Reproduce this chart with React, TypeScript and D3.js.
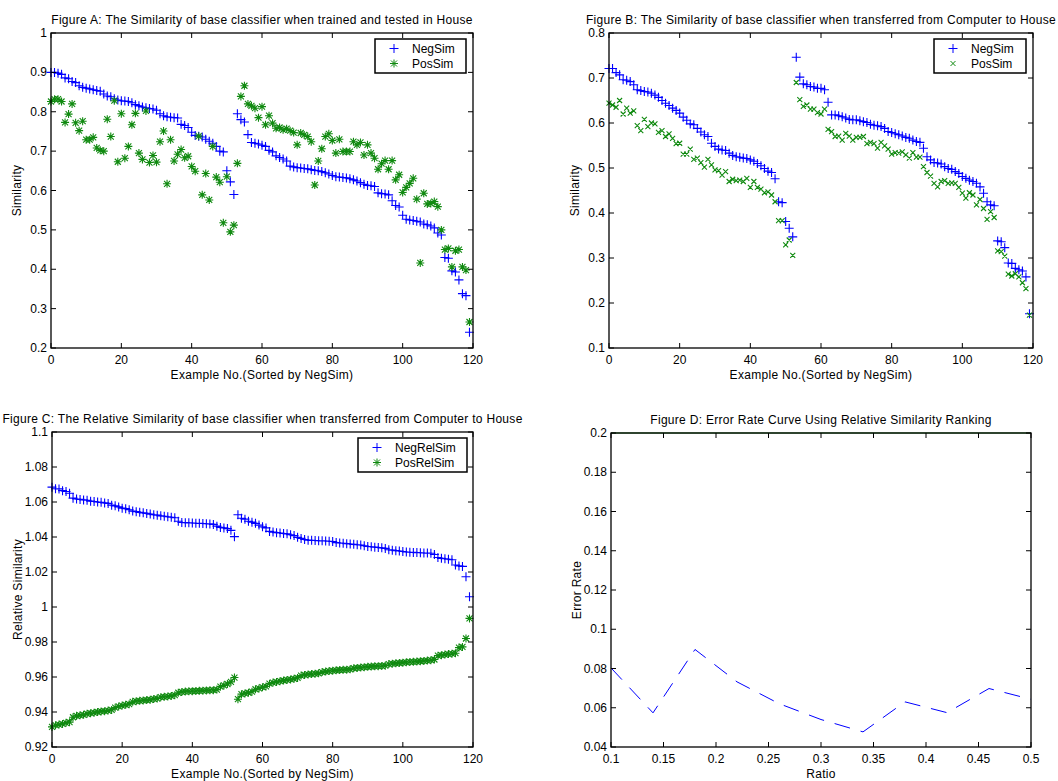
import React from "react";
import * as d3 from "d3";

// example index (sorted by NegSim)
const exampleNo = d3.range(120);

// Figure A: trained and tested in House
const negSimA = [
  0.900, 0.900, 0.898, 0.895, 0.886, 0.884, 0.877, 0.874, 0.866, 0.862,
  0.860, 0.858, 0.856, 0.854, 0.852, 0.845, 0.840, 0.838, 0.833, 0.830,
  0.828, 0.827, 0.826, 0.823, 0.818, 0.815, 0.812, 0.810, 0.808, 0.807,
  0.804, 0.795, 0.790, 0.787, 0.786, 0.785, 0.784, 0.768, 0.765, 0.760,
  0.748, 0.740, 0.738, 0.736, 0.730, 0.725, 0.720, 0.712, 0.700, 0.698,
  0.650, 0.622, 0.590, 0.795, 0.780, 0.774, 0.742, 0.722, 0.720, 0.718,
  0.715, 0.712, 0.702, 0.698, 0.688, 0.684, 0.680, 0.675, 0.662, 0.660,
  0.658, 0.657, 0.656, 0.655, 0.653, 0.651, 0.650, 0.648, 0.645, 0.642,
  0.638, 0.635, 0.634, 0.633, 0.632, 0.630, 0.627, 0.624, 0.620, 0.616,
  0.613, 0.612, 0.610, 0.594, 0.592, 0.591, 0.589, 0.574, 0.562, 0.558,
  0.537, 0.527, 0.525, 0.524, 0.522, 0.520, 0.515, 0.513, 0.510, 0.505,
  0.492, 0.487, 0.430, 0.428, 0.396, 0.393, 0.373, 0.338, 0.333, 0.240,
];
const posSimA = [
  0.826, 0.832, 0.832, 0.826, 0.773, 0.794, 0.820, 0.772, 0.752, 0.776,
  0.729, 0.729, 0.735, 0.708, 0.702, 0.700, 0.781, 0.737, 0.828, 0.673,
  0.795, 0.682, 0.712, 0.767, 0.796, 0.695, 0.679, 0.802, 0.671, 0.689,
  0.672, 0.724, 0.751, 0.617, 0.729, 0.675, 0.692, 0.704, 0.683, 0.687,
  0.661, 0.649, 0.738, 0.589, 0.643, 0.576, 0.712, 0.634, 0.621, 0.518,
  0.635, 0.495, 0.512, 0.669, 0.839, 0.866, 0.820, 0.815, 0.809, 0.785,
  0.813, 0.767, 0.790, 0.771, 0.758, 0.760, 0.754, 0.757, 0.752, 0.747,
  0.716, 0.746, 0.741, 0.737, 0.724, 0.614, 0.675, 0.706, 0.737, 0.744,
  0.727, 0.695, 0.730, 0.699, 0.699, 0.699, 0.724, 0.716, 0.722, 0.690,
  0.716, 0.695, 0.682, 0.654, 0.668, 0.676, 0.654, 0.676, 0.627, 0.640,
  0.595, 0.608, 0.618, 0.631, 0.578, 0.416, 0.593, 0.566, 0.567, 0.572,
  0.559, 0.500, 0.450, 0.453, 0.406, 0.447, 0.450, 0.406, 0.398, 0.266,
];

// Figure B: transferred from Computer to House
const negSimB = [
  0.721, 0.721, 0.712, 0.707, 0.696, 0.695, 0.692, 0.685, 0.674, 0.672,
  0.670, 0.669, 0.666, 0.662, 0.657, 0.650, 0.644, 0.639, 0.633, 0.628,
  0.622, 0.613, 0.606, 0.598, 0.596, 0.588, 0.580, 0.574, 0.570, 0.555,
  0.548, 0.542, 0.540, 0.539, 0.533, 0.528, 0.525, 0.524, 0.522, 0.521,
  0.518, 0.515, 0.510, 0.505, 0.499, 0.493, 0.490, 0.476, 0.425, 0.423,
  0.381, 0.366, 0.347, 0.746, 0.702, 0.687, 0.685, 0.681, 0.680, 0.677,
  0.677, 0.674, 0.646, 0.618, 0.618, 0.616, 0.614, 0.611, 0.608, 0.607,
  0.607, 0.605, 0.603, 0.601, 0.597, 0.595, 0.594, 0.592, 0.588, 0.581,
  0.579, 0.576, 0.574, 0.571, 0.568, 0.566, 0.562, 0.559, 0.557, 0.544,
  0.525, 0.518, 0.512, 0.511, 0.509, 0.503, 0.499, 0.497, 0.492, 0.488,
  0.481, 0.477, 0.473, 0.470, 0.466, 0.458, 0.444, 0.425, 0.418, 0.416,
  0.338, 0.336, 0.323, 0.289, 0.288, 0.277, 0.274, 0.271, 0.258, 0.176,
];
const posSimB = [
  0.644, 0.640, 0.635, 0.650, 0.620, 0.633, 0.622, 0.627, 0.594, 0.583,
  0.608, 0.592, 0.600, 0.598, 0.579, 0.583, 0.570, 0.576, 0.566, 0.554,
  0.555, 0.531, 0.531, 0.542, 0.519, 0.522, 0.512, 0.502, 0.519, 0.507,
  0.496, 0.494, 0.484, 0.492, 0.470, 0.475, 0.472, 0.473, 0.470, 0.477,
  0.457, 0.470, 0.457, 0.453, 0.445, 0.447, 0.440, 0.425, 0.383, 0.383,
  0.329, 0.340, 0.306, 0.690, 0.652, 0.637, 0.640, 0.631, 0.631, 0.623,
  0.620, 0.631, 0.586, 0.581, 0.570, 0.571, 0.562, 0.577, 0.571, 0.562,
  0.568, 0.568, 0.570, 0.554, 0.557, 0.554, 0.544, 0.557, 0.549, 0.542,
  0.531, 0.534, 0.533, 0.536, 0.529, 0.522, 0.534, 0.524, 0.524, 0.503,
  0.490, 0.482, 0.466, 0.458, 0.470, 0.472, 0.466, 0.467, 0.466, 0.457,
  0.444, 0.433, 0.445, 0.440, 0.418, 0.430, 0.410, 0.386, 0.403, 0.390,
  0.316, 0.314, 0.304, 0.264, 0.260, 0.265, 0.258, 0.245, 0.232, 0.173,
];

// Figure C: relative similarity
const negRelSim = [
  1.0685, 1.0676, 1.0675, 1.0665, 1.0660, 1.0650, 1.0622, 1.0617, 1.0615, 1.0612,
  1.0610, 1.0605, 1.0603, 1.0600, 1.0598, 1.0595, 1.0592, 1.0582, 1.0578, 1.0572,
  1.0565, 1.0562, 1.0556, 1.0548, 1.0545, 1.0541, 1.0538, 1.0535, 1.0531, 1.0527,
  1.0525, 1.0521, 1.0519, 1.0516, 1.0513, 1.0510, 1.0490, 1.0483, 1.0482, 1.0481,
  1.0480, 1.0479, 1.0478, 1.0477, 1.0476, 1.0475, 1.0472, 1.0462, 1.0455, 1.0452,
  1.0448, 1.0438, 1.0402, 1.0527, 1.0507, 1.0502, 1.0490, 1.0485, 1.0478, 1.0468,
  1.0458, 1.0452, 1.0432, 1.0428, 1.0425, 1.0423, 1.0420, 1.0418, 1.0413, 1.0408,
  1.0398, 1.0392, 1.0386, 1.0382, 1.0381, 1.0380, 1.0379, 1.0378, 1.0377, 1.0376,
  1.0374, 1.0368, 1.0366, 1.0364, 1.0362, 1.0360, 1.0358, 1.0356, 1.0354, 1.0350,
  1.0346, 1.0344, 1.0342, 1.0340, 1.0338, 1.0335, 1.0327, 1.0325, 1.0322, 1.0320,
  1.0317, 1.0314, 1.0313, 1.0312, 1.0311, 1.0310, 1.0309, 1.0308, 1.0307, 1.0300,
  1.0283, 1.0278, 1.0276, 1.0273, 1.0270, 1.0240, 1.0235, 1.0232, 1.0173, 1.0059,
];
const posRelSim = [
  0.9315, 0.9325, 0.9328, 0.9332, 0.9338, 0.9342, 0.9370, 0.9378, 0.9381, 0.9384,
  0.9390, 0.9393, 0.9396, 0.9400, 0.9403, 0.9405, 0.9408, 0.9412, 0.9425, 0.9432,
  0.9437, 0.9441, 0.9445, 0.9458, 0.9462, 0.9464, 0.9466, 0.9468, 0.9470, 0.9475,
  0.9477, 0.9485, 0.9487, 0.9489, 0.9492, 0.9496, 0.9510, 0.9515, 0.9517, 0.9518,
  0.9519, 0.9520, 0.9521, 0.9522, 0.9523, 0.9524, 0.9525, 0.9528, 0.9545, 0.9552,
  0.9560, 0.9572, 0.9597, 0.9473, 0.9502, 0.9506, 0.9510, 0.9516, 0.9530, 0.9535,
  0.9542, 0.9546, 0.9562, 0.9568, 0.9572, 0.9576, 0.9580, 0.9583, 0.9586, 0.9590,
  0.9595, 0.9608, 0.9612, 0.9615, 0.9617, 0.9619, 0.9621, 0.9628, 0.9631, 0.9634,
  0.9636, 0.9638, 0.9640, 0.9641, 0.9642, 0.9644, 0.9650, 0.9652, 0.9654, 0.9656,
  0.9658, 0.9660, 0.9661, 0.9662, 0.9663, 0.9665, 0.9674, 0.9676, 0.9678, 0.9680,
  0.9682, 0.9684, 0.9686, 0.9687, 0.9688, 0.9690, 0.9692, 0.9694, 0.9696, 0.9700,
  0.9722, 0.9725, 0.9728, 0.9731, 0.9733, 0.9736, 0.9768, 0.9772, 0.9820, 0.9935,
];

// Figure D: error rate curve
const ratio = [0.1, 0.14, 0.18, 0.22, 0.26, 0.3, 0.34, 0.38, 0.42, 0.46, 0.5];
const errorRate = [0.0803, 0.0574, 0.0897, 0.0732, 0.0621, 0.054, 0.0477, 0.063, 0.0575, 0.0698, 0.0643];
const baselineRate = [0.2, 0.2, 0.2, 0.2, 0.2, 0.2, 0.2, 0.2, 0.2, 0.2, 0.2];

const indexTicks = [0, 20, 40, 60, 80, 100, 120];
const simTicksA = [0.2, 0.3, 0.4, 0.5, 0.6, 0.7, 0.8, 0.9, 1];
const simTicksB = [0.1, 0.2, 0.3, 0.4, 0.5, 0.6, 0.7, 0.8];
const relTicks = [0.92, 0.94, 0.96, 0.98, 1, 1.02, 1.04, 1.06, 1.08, 1.1];
const errTicks = [0.04, 0.06, 0.08, 0.1, 0.12, 0.14, 0.16, 0.18, 0.2];
const ratioTicks = [0.1, 0.15, 0.2, 0.25, 0.3, 0.35, 0.4, 0.45, 0.5];

const BLUE = "#0000ff";
const GREEN = "#108a10";
const FONT = "'Liberation Sans', Arial, Helvetica, sans-serif";

const fmt = (d: number) => String(+d.toFixed(4));

const plusPath = (x: number, y: number) => `M${x - 4.5},${y}h9M${x},${y - 4.5}v9`;
const starPath = (x: number, y: number) =>
  `M${x - 4},${y}h8M${x},${y - 4}v8M${x - 3},${y - 3}l6,6M${x - 3},${y + 3}l6,-6`;
const crossPath = (x: number, y: number) => `M${x - 2.5},${y - 2.5}l5,5M${x - 2.5},${y + 2.5}l5,-5`;

const markerFns: Record<string, (x: number, y: number) => string> = {
  plus: plusPath,
  star: starPath,
  cross: crossPath,
};

type Series = { name: string; xs: number[]; ys: number[]; color: string; marker?: string; line?: string };

type PanelProps = {
  left: number;
  top: number;
  width: number;
  height: number;
  xDomain: [number, number];
  yDomain: [number, number];
  xTicks: number[];
  yTicks: number[];
  title: string;
  xLabel: string;
  yLabel: string;
  series: Series[];
  legend?: { x: number; y: number; w: number };
};

function Panel(p: PanelProps) {
  const x = d3.scaleLinear().domain(p.xDomain).range([p.left, p.left + p.width]);
  const y = d3.scaleLinear().domain(p.yDomain).range([p.top + p.height, p.top]);
  const tl = 5;
  const right = p.left + p.width;
  const bottom = p.top + p.height;
  const cx = p.left + p.width / 2;
  const line = d3
    .line<[number, number]>()
    .x((d) => x(d[0]))
    .y((d) => y(d[1]));

  return (
    <g>
      <text x={cx} y={p.top - 9} textAnchor="middle" fontSize={12} letterSpacing={0.3}>
        {p.title}
      </text>

      {/* data */}
      {p.series.map((s) =>
        s.line ? (
          <path
            key={s.name}
            d={line(s.xs.map((v, i) => [v, s.ys[i]] as [number, number])) || ""}
            fill="none"
            stroke={s.color}
            strokeWidth={1}
            strokeDasharray={s.line === "dash" ? "16,11" : undefined}
          />
        ) : (
          <path
            key={s.name}
            d={s.xs.map((v, i) => markerFns[s.marker!](x(v), y(s.ys[i]))).join("")}
            fill="none"
            stroke={s.color}
            strokeWidth={1.1}
          />
        )
      )}

      {/* frame and ticks */}
      <rect x={p.left} y={p.top} width={p.width} height={p.height} fill="none" stroke="#000" strokeWidth={1.3} />
      {p.xTicks.map((t) => (
        <g key={"x" + t}>
          <line x1={x(t)} x2={x(t)} y1={bottom} y2={bottom - tl} stroke="#000" />
          <line x1={x(t)} x2={x(t)} y1={p.top} y2={p.top + tl} stroke="#000" />
          <text x={x(t)} y={bottom + 16} textAnchor="middle" fontSize={12}>
            {fmt(t)}
          </text>
        </g>
      ))}
      {p.yTicks.map((t) => (
        <g key={"y" + t}>
          <line x1={p.left} x2={p.left + tl} y1={y(t)} y2={y(t)} stroke="#000" />
          <line x1={right} x2={right - tl} y1={y(t)} y2={y(t)} stroke="#000" />
          <text x={p.left - 4} y={y(t) + 4} textAnchor="end" fontSize={12}>
            {fmt(t)}
          </text>
        </g>
      ))}
      <text x={cx} y={bottom + 31} textAnchor="middle" fontSize={12} letterSpacing={0.3}>
        {p.xLabel}
      </text>
      <text
        transform={`translate(${p.left - 30},${p.top + p.height / 2}) rotate(-90)`}
        textAnchor="middle"
        fontSize={12}
        letterSpacing={0.3}
      >
        {p.yLabel}
      </text>

      {/* legend */}
      {p.legend && (
        <g>
          <rect
            x={p.legend.x}
            y={p.legend.y}
            width={p.legend.w}
            height={34}
            fill="#fff"
            stroke="#000"
            strokeWidth={1.5}
          />
          {p.series.map((s, i) => (
            <g key={"lg" + s.name}>
              <path
                d={markerFns[s.marker!](p.legend!.x + 19, p.legend!.y + 9.5 + i * 15)}
                fill="none"
                stroke={s.color}
              />
              <text x={p.legend!.x + 37} y={p.legend!.y + 13.5 + i * 15} fontSize={12}>
                {s.name}
              </text>
            </g>
          ))}
        </g>
      )}
    </g>
  );
}

export default function App() {
  return (
    <svg
      width={1058}
      height={781}
      style={{ position: "absolute", left: 0, top: 0, background: "#fff" }}
      fontFamily={FONT}
    >
      <rect width={1058} height={781} fill="#fff" />
      <Panel
        left={51}
        top={33}
        width={422}
        height={315}
        xDomain={[0, 120]}
        yDomain={[0.2, 1]}
        xTicks={indexTicks}
        yTicks={simTicksA}
        title="Figure A: The Similarity of base classifier when trained and tested in House"
        xLabel="Example No.(Sorted by NegSim)"
        yLabel="Similarity"
        series={[
          { name: "NegSim", xs: exampleNo, ys: negSimA, color: BLUE, marker: "plus" },
          { name: "PosSim", xs: exampleNo, ys: posSimA, color: GREEN, marker: "star" },
        ]}
        legend={{ x: 375, y: 39, w: 91 }}
      />
      <Panel
        left={609}
        top={33}
        width={424}
        height={315}
        xDomain={[0, 120]}
        yDomain={[0.1, 0.8]}
        xTicks={indexTicks}
        yTicks={simTicksB}
        title="Figure B: The Similarity of base classifier when transferred from Computer to House"
        xLabel="Example No.(Sorted by NegSim)"
        yLabel="Similarity"
        series={[
          { name: "NegSim", xs: exampleNo, ys: negSimB, color: BLUE, marker: "plus" },
          { name: "PosSim", xs: exampleNo, ys: posSimB, color: GREEN, marker: "cross" },
        ]}
        legend={{ x: 934, y: 39, w: 92 }}
      />
      <Panel
        left={52}
        top={432}
        width={421}
        height={315}
        xDomain={[0, 120]}
        yDomain={[0.92, 1.1]}
        xTicks={indexTicks}
        yTicks={relTicks}
        title="Figure C: The Relative Similarity of base classifier when transferred from Computer to House"
        xLabel="Example No.(Sorted by NegSim)"
        yLabel="Relative Similarity"
        series={[
          { name: "NegRelSim", xs: exampleNo, ys: negRelSim, color: BLUE, marker: "plus" },
          { name: "PosRelSim", xs: exampleNo, ys: posRelSim, color: GREEN, marker: "star" },
        ]}
        legend={{ x: 358, y: 438, w: 109 }}
      />
      <Panel
        left={611}
        top={433}
        width={420}
        height={314}
        xDomain={[0.1, 0.5]}
        yDomain={[0.04, 0.2]}
        xTicks={ratioTicks}
        yTicks={errTicks}
        title="Figure D: Error Rate Curve Using Relative Similarity Ranking"
        xLabel="Ratio"
        yLabel="Error Rate"
        series={[
          { name: "Baseline", xs: ratio, ys: baselineRate, color: GREEN, line: "solid" },
          { name: "ErrorRate", xs: ratio, ys: errorRate, color: BLUE, line: "dash" },
        ]}
      />
    </svg>
  );
}
